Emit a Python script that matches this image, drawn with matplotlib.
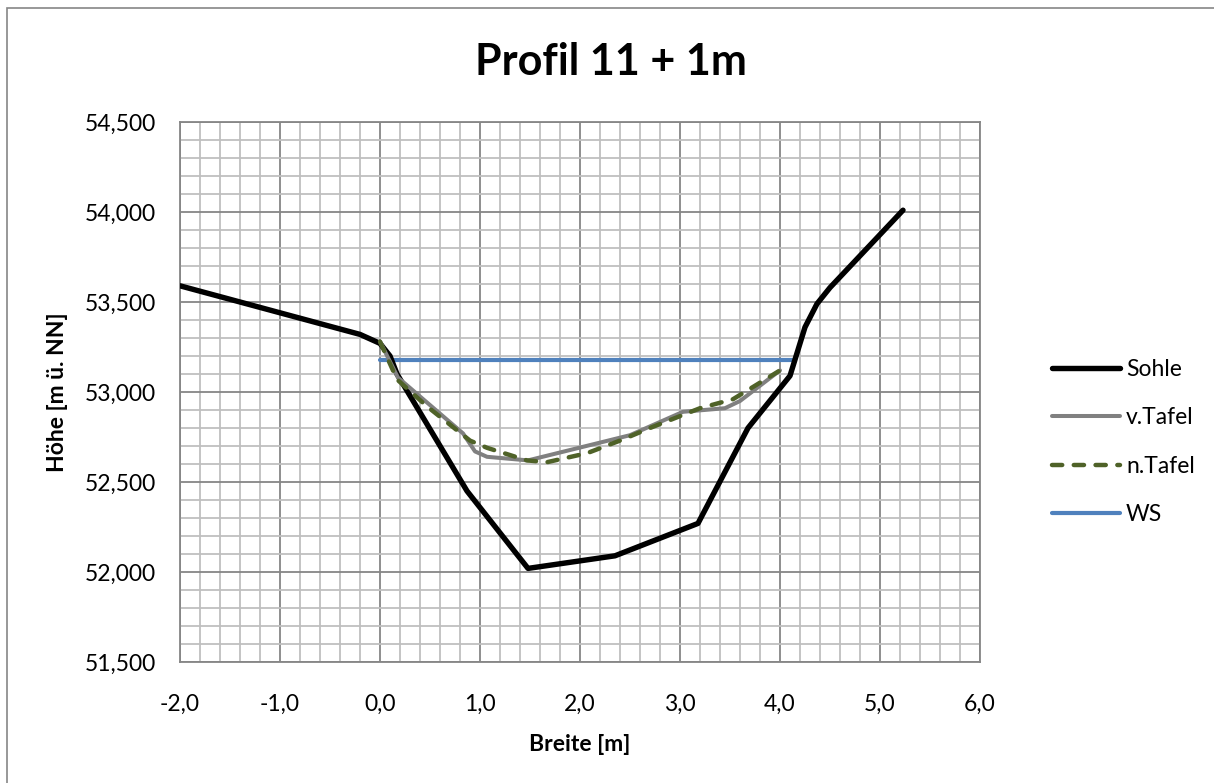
import matplotlib.pyplot as plt
from matplotlib.ticker import MultipleLocator, FuncFormatter
from matplotlib.patches import Rectangle

plt.rcParams['font.family'] = ['Lato', 'DejaVu Sans']

# Querprofil
sohle_x = [-2.0, -0.2, 0.0, 0.1, 0.17, 0.87, 1.48, 2.35, 3.18, 3.68, 4.1, 4.15, 4.25, 4.37, 4.5, 5.23]
sohle_y = [53.59, 53.32, 53.27, 53.2, 53.10, 52.45, 52.02, 52.09, 52.27, 52.80, 53.09, 53.18, 53.36, 53.49, 53.58, 54.01]

vtafel_x = [0.0, 0.18, 0.83, 0.95, 1.07, 1.48, 2.5, 3.03, 3.45, 3.6, 4.0]
vtafel_y = [53.28, 53.08, 52.77, 52.67, 52.64, 52.62, 52.76, 52.89, 52.91, 52.95, 53.12]

ntafel_x = [0.0, 0.17, 0.47, 0.9, 1.07, 1.47, 1.67, 2.07, 2.4, 2.7, 3.2, 3.53, 4.0]
ntafel_y = [53.28, 53.07, 52.92, 52.73, 52.69, 52.62, 52.61, 52.66, 52.73, 52.80, 52.91, 52.96, 53.12]

ws_x = [0.0, 4.15]
ws_y = [53.18, 53.18]

fig = plt.figure(figsize=(12.14, 7.83), dpi=100)
ax = fig.add_axes([180/1214, 1-662/783, 800/1214, 540/783])

# Rahmen
fig.patches.append(Rectangle((7/1214, -0.01), 1.02, 1-8/783+0.01, transform=fig.transFigure,
                             fill=False, edgecolor='#868686', lw=1.2))

ax.plot(sohle_x, sohle_y, color='black', lw=3.9, label='Sohle', solid_joinstyle='round',
        solid_capstyle='round', zorder=3)
ax.plot(vtafel_x, vtafel_y, color='#808080', lw=2.9, label='v.Tafel', solid_joinstyle='round',
        solid_capstyle='round', zorder=4)
ax.plot(ntafel_x, ntafel_y, color='#4F6228', lw=3.2, ls=(0, (2.3, 2.6)), label='n.Tafel',
        dash_capstyle='round', zorder=5)
ax.plot(ws_x, ws_y, color='#4F81BD', lw=3.0, label='WS', solid_capstyle='round', zorder=2)

ax.set_xlim(-2, 6)
ax.set_ylim(51.5, 54.5)
ax.xaxis.set_major_locator(MultipleLocator(1))
ax.xaxis.set_minor_locator(MultipleLocator(0.2))
ax.yaxis.set_major_locator(MultipleLocator(0.5))
ax.yaxis.set_minor_locator(MultipleLocator(0.1))
ax.xaxis.set_major_formatter(FuncFormatter(lambda v, p: f"{v:.1f}".replace('.', ',')))
ax.yaxis.set_major_formatter(FuncFormatter(lambda v, p: f"{v:,.3f}".replace('.', ',')))

ax.grid(which='minor', color='#BFBFBF', lw=1.3, zorder=0)
ax.grid(which='major', color='#868686', lw=1.3, zorder=1)
ax.set_axisbelow(True)
for s in ax.spines.values():
    s.set_color('#868686')
    s.set_linewidth(1.3)
ax.tick_params(which='both', length=0, labelsize=16.5, colors='black')
ax.tick_params(axis='y', pad=17)
ax.tick_params(axis='x', pad=23)

ax.set_xlabel('Breite [m]', fontsize=16.5, fontweight='bold', labelpad=14)
ax.set_ylabel('Höhe [m ü. NN]', fontsize=16.5, fontweight='bold', labelpad=12)
fig.text(611/1214, 1-62/783, 'Profil 11 + 1m', ha='center', va='center', fontsize=31, fontweight='bold')

fig.legend(loc='center left', bbox_to_anchor=(1031/1214, 1-442/783), frameon=False,
           fontsize=16.5, handlelength=3.0, handletextpad=0.25, labelspacing=1.2)

fig.savefig('out.png', dpi=100)
